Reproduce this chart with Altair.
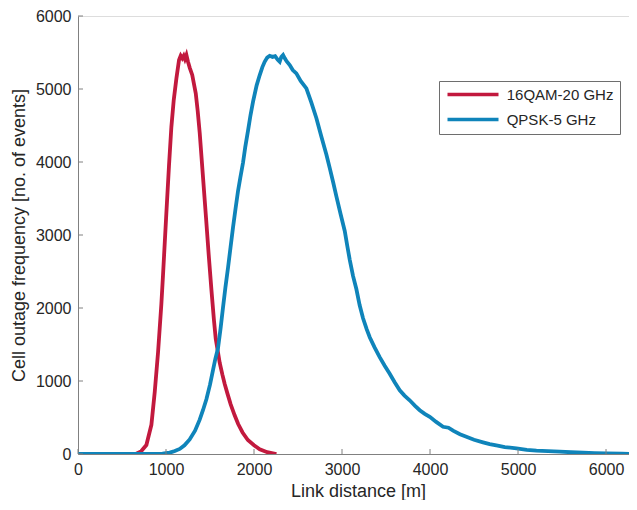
import altair as alt
import pandas as pd

# ---- data ----
series_names = ["16QAM-20 GHz", "QPSK-5 GHz"]
series_colors = ["#C2193E", "#0F84BA"]

red_x = [0, 300, 600, 663, 720, 777, 834, 872, 910, 947, 966, 1004, 1034, 1061, 1088,
         1118, 1148, 1167, 1185, 1201, 1215, 1232, 1250, 1270, 1298, 1338, 1360, 1383,
         1415, 1455, 1487, 1516, 1545, 1565, 1591, 1610, 1640, 1667, 1700, 1735, 1780,
         1820, 1870, 1930, 2000, 2065, 2150, 2255]
red_y = [0, 0, 0, 5, 40, 123, 400, 850, 1400, 2050, 2450, 3300, 3950, 4480, 4850,
         5145, 5396, 5455, 5420, 5455, 5410, 5465, 5373, 5290, 5192, 4940, 4700, 4400,
         3880, 3230, 2700, 2250, 1830, 1580, 1390, 1250, 1090, 960, 820, 680, 530,
         410, 295, 191, 120, 65, 25, 0]

blue_x = [0, 450, 900, 960, 1042, 1100, 1156, 1210, 1269, 1330, 1383, 1420, 1459, 1500,
          1534, 1560, 1591, 1620, 1648, 1675, 1705, 1733, 1761, 1790, 1818, 1845, 1875,
          1900, 1932, 1960, 1989, 2030, 2065, 2095, 2121, 2150, 2178, 2210, 2240, 2270,
          2292, 2310, 2330, 2350, 2370, 2406, 2440, 2481, 2530, 2595, 2650, 2709, 2765,
          2823, 2860, 2900, 2936, 2985, 3031, 3060, 3088, 3125, 3163, 3200, 3239, 3280,
          3315, 3370, 3428, 3485, 3542, 3600, 3656, 3710, 3769, 3830, 3883, 3940, 3997,
          4070, 4148, 4210, 4262, 4340, 4413, 4500, 4602, 4678, 4754, 4850, 4982, 5100,
          5209, 5340, 5474, 5600, 5740, 5870, 6004, 6180, 6261]
blue_y = [0, 0, 0, 5, 18, 40, 70, 120, 200, 320, 470, 600, 750, 950,
          1150, 1300, 1450, 1720, 2009, 2280, 2554, 2830, 3100, 3360, 3600, 3790, 3990,
          4200, 4430, 4640, 4827, 5050, 5191, 5300, 5373, 5430, 5455, 5440, 5450, 5400,
          5373, 5440, 5465, 5420, 5380, 5328, 5260, 5214, 5110, 5009, 4820, 4600, 4350,
          4100, 3920, 3720, 3530, 3280, 3055, 2850, 2660, 2440, 2260, 2040, 1860, 1710,
          1600, 1460, 1327, 1210, 1100, 980, 873, 800, 736, 660, 600, 550, 509,
          440, 373, 360, 320, 270, 236, 195, 160, 136, 118, 95, 78, 58,
          45, 38, 32, 24, 18, 13, 9, 5, 3]

x_ticks = [0, 1000, 2000, 3000, 4000, 5000, 6000]
y_ticks = [0, 1000, 2000, 3000, 4000, 5000, 6000]

df = pd.concat([
    pd.DataFrame({"dist": red_x, "freq": red_y, "series": series_names[0]}),
    pd.DataFrame({"dist": blue_x, "freq": blue_y, "series": series_names[1]}),
], ignore_index=True)
xt = pd.DataFrame({"v": x_ticks})
yt = pd.DataFrame({"v": y_ticks})

W, H = 551, 438
AX = "#808080"
TXT = "#262626"
xscale = alt.Scale(domain=[0, 6261], nice=False, zero=False)
yscale = alt.Scale(domain=[0, 6000], nice=False)

x_axis = alt.Axis(title="Link distance [m]", values=x_ticks, format="d",
                  ticks=False, grid=False, domainColor=AX, labelFontSize=16,
                  labelColor=TXT, labelPadding=7, labelFlush=False,
                  titleFontSize=18, titleColor=TXT, titleFontWeight="normal",
                  titleX=280, titleY=42, titleBaseline="alphabetic")
y_axis = alt.Axis(title="Cell outage frequency [no. of events]", values=y_ticks,
                  format="d", ticks=False, grid=False, domainColor=AX,
                  labelFontSize=16, labelColor=TXT, labelPadding=7,
                  labelFlush=False, titleFontSize=18, titleColor=TXT,
                  titleFontWeight="normal", titleX=-59, titleY=H / 2,
                  titleAngle=270, titleAlign="center", titleBaseline="middle")

lines = alt.Chart(df).mark_line(strokeWidth=3.8, clip=True).encode(
    x=alt.X("dist:Q", scale=xscale, axis=x_axis),
    y=alt.Y("freq:Q", scale=yscale, axis=y_axis),
    color=alt.Color("series:N",
                    scale=alt.Scale(domain=series_names, range=series_colors),
                    legend=alt.Legend(title=None, orient="none", legendX=361, legendY=65,
                                      symbolType="M-1,0H9.2", symbolSize=100,
                                      symbolStrokeWidth=3.5, labelFontSize=15,
                                      labelOffset=46.7, labelColor=TXT,
                                      strokeColor="#6e6e6e", fillColor="white",
                                      padding=6, rowPadding=9)),
)

xtick = alt.Chart(xt).mark_rule(color=AX, strokeWidth=1).encode(
    x=alt.X("v:Q", scale=xscale, axis=x_axis),
    y=alt.value(H), y2=alt.value(H - 5))
ytick = alt.Chart(yt).mark_rule(color=AX, strokeWidth=1).encode(
    y=alt.Y("v:Q", scale=yscale, axis=y_axis),
    x=alt.value(0), x2=alt.value(5))

chart = alt.layer(lines, xtick, ytick).properties(
    width=W, height=H,
    padding={"left": 70, "top": 8, "right": 0, "bottom": 46},
    autosize=alt.AutoSizeParams(type="none"),
    background="white",
).configure_view(stroke=None).configure(font="Liberation Sans")

chart.save("out.html", embed_options={"renderer": "svg", "actions": False})
